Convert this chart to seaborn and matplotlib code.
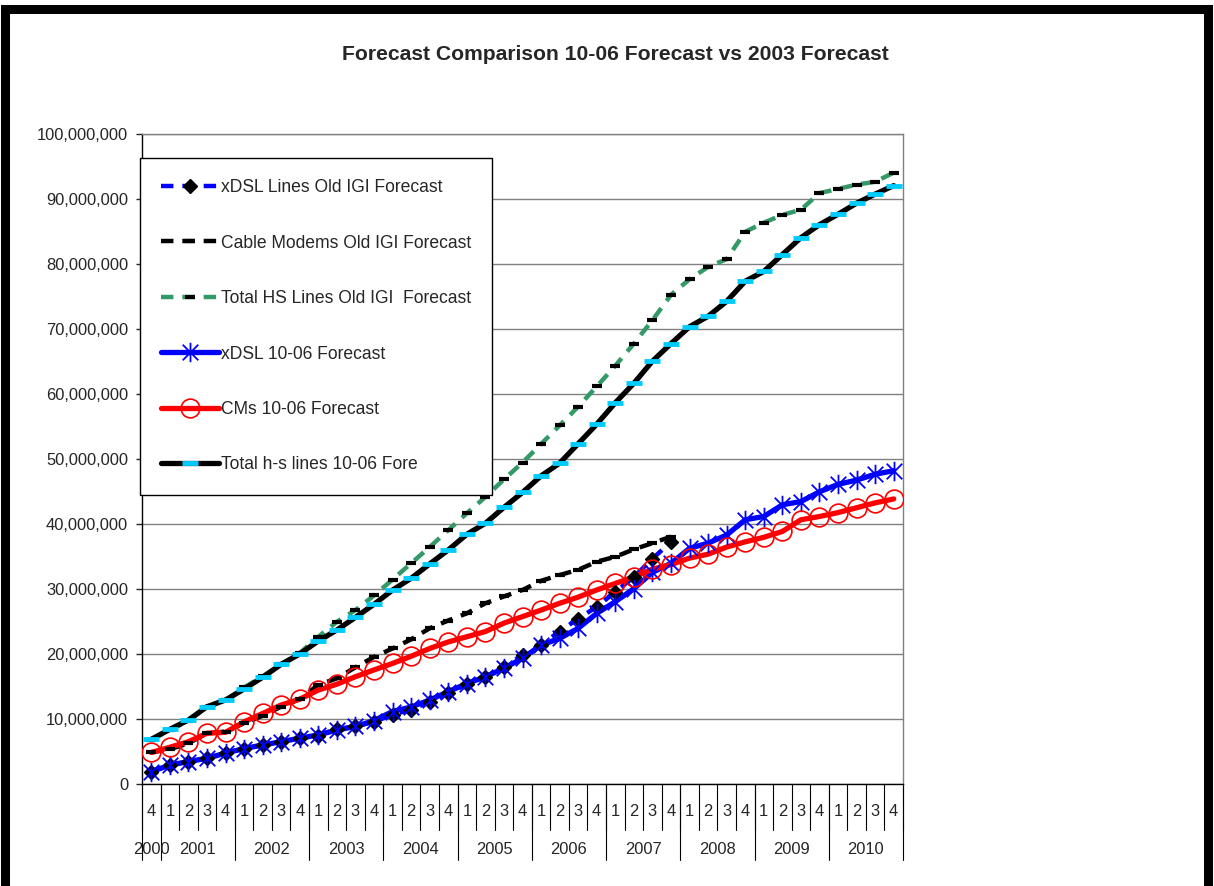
import numpy as np
import pandas as pd
import seaborn as sns
import matplotlib.pyplot as plt
import matplotlib.transforms as mtransforms
from matplotlib.lines import Line2D
from matplotlib.path import Path
from matplotlib.patches import Rectangle
from matplotlib.ticker import FuncFormatter, MultipleLocator

# categories: quarters 2000 Q4 .. 2010 Q4
quarters = ["4"] + ["1", "2", "3", "4"] * 10
years = ["2000", "2001", "2002", "2003", "2004", "2005",
         "2006", "2007", "2008", "2009", "2010"]
year_sizes = [1, 4, 4, 4, 4, 4, 4, 4, 4, 4, 4]

# values in millions of lines
old_xdsl = [1.95, 2.95, 3.5, 4.0, 4.8, 5.5, 6.05, 6.55, 7.1, 7.5, 8.5, 8.9, 9.6,
            10.7, 11.5, 12.7, 14.0, 15.4, 16.55, 18.1, 19.9, 21.5, 23.5, 25.5,
            27.3, 29.6, 31.9, 34.7, 37.3]
old_cable = [4.9, 5.4, 6.3, 7.85, 8.1, 9.4, 10.55, 11.95, 13.1, 15.3, 16.3, 18.0,
             19.6, 20.9, 22.3, 24.0, 25.2, 26.3, 27.85, 28.9, 29.9, 31.3, 32.2,
             33.0, 34.25, 35.0, 36.15, 37.1, 38.1]
old_total = [6.85, 8.35, 9.8, 11.85, 12.9, 14.9, 16.6, 18.5, 20.2, 22.7, 25.0,
             26.8, 29.05, 31.5, 34.0, 36.5, 39.1, 41.7, 44.2, 46.9, 49.5, 52.35,
             55.2, 58.1, 61.2, 64.4, 67.8, 71.4, 75.3, 77.7, 79.6, 80.8, 85.0,
             86.4, 87.6, 88.4, 90.95, 91.6, 92.25, 92.7, 94.1]
new_xdsl = [1.95, 2.95, 3.5, 4.0, 4.8, 5.5, 6.05, 6.55, 7.1, 7.6, 8.35, 8.9, 9.8,
            11.2, 11.9, 12.97, 14.25, 15.5, 16.55, 17.85, 19.4, 21.4, 22.45, 24.0,
            26.3, 28.1, 30.1, 32.6, 34.0, 36.3, 37.1, 38.35, 40.7, 41.2, 43.0,
            43.5, 45.0, 46.15, 46.8, 47.7, 48.25]
new_cm = [4.9, 5.7, 6.55, 7.85, 8.0, 9.6, 10.9, 12.2, 13.1, 14.5, 15.4, 16.55,
          17.6, 18.6, 19.7, 20.9, 21.9, 22.7, 23.5, 24.8, 25.8, 26.8, 27.85, 28.8,
          29.9, 30.9, 31.9, 33.1, 33.8, 34.8, 35.4, 36.5, 37.3, 38.0, 38.9, 40.7,
          41.2, 41.8, 42.55, 43.3, 43.9]
new_total = [6.92, 8.46, 9.89, 11.94, 12.97, 14.66, 16.46, 18.46, 20.05, 22.05,
             23.74, 25.69, 27.69, 29.89, 31.69, 33.9, 36.05, 38.46, 40.15, 42.6,
             44.9, 47.45, 49.4, 52.4, 55.4, 58.7, 61.7, 65.1, 67.8, 70.4, 72.0,
             74.3, 77.4, 78.9, 81.5, 84.1, 86.1, 87.7, 89.4, 90.8, 92.1]

labels = ["xDSL Lines Old IGI Forecast", "Cable Modems Old IGI Forecast",
          "Total HS Lines Old IGI  Forecast", "xDSL 10-06 Forecast",
          "CMs 10-06 Forecast", "Total h-s lines 10-06 Fore"]

sns.set_style("white")
plt.rcParams["font.family"] = ["Liberation Sans", "DejaVu Sans"]

# excel style asterisk marker
star = Path([(0, -1), (0, 1), (-0.8, -0.8), (0.8, 0.8), (-0.8, 0.8), (0.8, -0.8)],
            [Path.MOVETO, Path.LINETO, Path.MOVETO, Path.LINETO, Path.MOVETO, Path.LINETO])

dash = (0, (2.8, 2))
styles = [
    (old_xdsl, dict(color="#0000FF", linestyle=dash, linewidth=3.2),
     dict(marker="D", markersize=7.5, markerfacecolor="black", markeredgecolor="black", markeredgewidth=1)),
    (old_cable, dict(color="black", linestyle=dash, linewidth=3.2),
     dict(marker="_", markersize=7, markerfacecolor="black", markeredgecolor="black", markeredgewidth=3)),
    (old_total, dict(color="#339966", linestyle=dash, linewidth=3.2),
     dict(marker="_", markersize=7, markerfacecolor="black", markeredgecolor="black", markeredgewidth=3)),
    (new_xdsl, dict(color="#0000FF", linestyle="-", linewidth=3.8),
     dict(marker=star, markersize=14, markerfacecolor="none", markeredgecolor="#0000FF", markeredgewidth=1.3)),
    (new_cm, dict(color="#FF0000", linestyle="-", linewidth=3.8),
     dict(marker="o", markersize=13.5, markerfacecolor="none", markeredgecolor="#FF0000", markeredgewidth=1.2)),
    (new_total, dict(color="black", linestyle="-", linewidth=3.8),
     dict(marker="_", markersize=12, markerfacecolor="#00CCFF", markeredgecolor="#00CCFF", markeredgewidth=3.5)),
]

fig = plt.figure(figsize=(12.14, 8.86), dpi=100)
ax = fig.add_axes([142 / 1214, 1 - 784.3 / 886, 761 / 1214, 650 / 886])

# lines first, then markers on top (like Excel)
for vals, lkw, mkw in styles:
    x = np.arange(len(vals))
    sns.lineplot(x=x, y=np.array(vals) * 1e6, ax=ax, errorbar=None, zorder=3, **lkw)
for vals, lkw, mkw in styles:
    x = np.arange(len(vals))
    sns.lineplot(x=x, y=np.array(vals) * 1e6, ax=ax, errorbar=None, zorder=4,
                 linestyle="none", **mkw)

ax.set_xlim(-0.5, len(quarters) - 0.5)
ax.set_ylim(0, 1e8)
ax.yaxis.set_major_locator(MultipleLocator(1e7))
ax.yaxis.set_major_formatter(FuncFormatter(lambda v, p: f"{v:,.0f}"))
ax.tick_params(axis="y", labelsize=11.9, length=4, width=1, pad=6, direction="out", left=True)
ax.yaxis.grid(True, color="#808080", linewidth=1)
ax.set_axisbelow(True)
ax.set_xlabel("")
ax.set_ylabel("")

ax.set_xticks(range(len(quarters)))
ax.set_xticklabels(quarters, fontsize=11.9)
ax.tick_params(axis="x", length=0, pad=14)

for s in ["left", "bottom"]:
    ax.spines[s].set_color("black")
    ax.spines[s].set_linewidth(1)
for s in ["top", "right"]:
    ax.spines[s].set_color("#808080")
    ax.spines[s].set_linewidth(1)

# two-level category axis separators and year labels
trans = mtransforms.blended_transform_factory(ax.transData, ax.transAxes)
for k in range(len(quarters) + 1):
    ax.plot([k - 0.5, k - 0.5], [0, -0.07], transform=trans, color="black",
            linewidth=0.8, clip_on=False)
bounds = np.concatenate([[0], np.cumsum(year_sizes)]) - 0.5
for b in bounds:
    ax.plot([b, b], [0, -0.117], transform=trans, color="black",
            linewidth=0.8, clip_on=False)
for yr, a, b in zip(years, bounds[:-1], bounds[1:]):
    ax.text((a + b) / 2, -0.101, yr, transform=trans, ha="center", va="center",
            fontsize=11.9)

handles = [Line2D([], [], **lkw, **mkw) for _, lkw, mkw in styles]
leg = ax.legend(handles, labels, loc="upper left", bbox_to_anchor=(-0.003, 0.9635),
                frameon=True, fancybox=False, edgecolor="black", framealpha=1,
                fontsize=12.65, labelspacing=2.19, handlelength=3.3, handletextpad=0.1,
                borderpad=1.2, borderaxespad=0)
leg.get_frame().set_linewidth(1)
leg.set_zorder(10)

fig.text(0.507, 1 - 55 / 886, "Forecast Comparison 10-06 Forecast vs 2003 Forecast",
         ha="center", va="center", fontsize=15.2, fontweight="bold")

# thick chart border
border = Rectangle((4.5 / 1214, -0.05), (1208 - 4.5) / 1214, 1.05 - 9.5 / 886,
                   transform=fig.transFigure, fill=False, edgecolor="black",
                   linewidth=6.5, clip_on=False)
fig.patches.append(border)

fig.savefig("out.png", dpi=100, facecolor="white")
